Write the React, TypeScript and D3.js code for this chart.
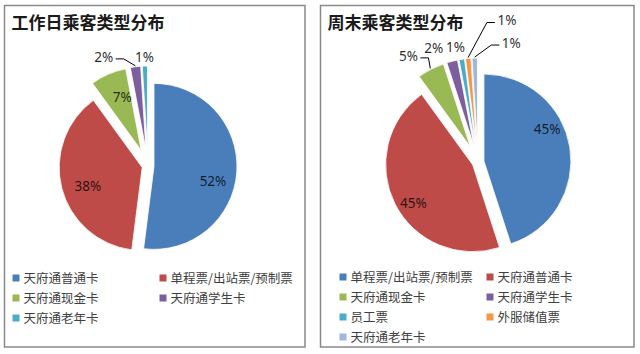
import React from "react";
import * as d3 from "d3";

// weekday chart
const weekdayTitle = "工作日乘客类型分布";
const weekdayCategories = ["天府通普通卡", "单程票/出站票/预制票", "天府通现金卡", "天府通学生卡", "天府通老年卡"];
const weekdayValues = [52, 38, 7, 2, 1];

// weekend chart
const weekendTitle = "周末乘客类型分布";
const weekendCategories = ["单程票/出站票/预制票", "天府通普通卡", "天府通现金卡", "天府通学生卡", "员工票", "外服储值票", "天府通老年卡"];
const weekendValues = [45, 45, 5, 2, 1, 1, 1];

const palette = ["#4A7EBB", "#BE4B48", "#98B954", "#7D5FA0", "#4AACC6", "#F79646", "#A2B6DC"];

// label tweaks (relative to the default spot), Excel moves them around a bit
const weekdayNudge = [[1, 11], [2, 4], [4, 0], [-30, 4], [0, 5]];
const weekdayLeader = [false, false, false, true, false];
const weekendNudge = [[3, -22], [-5, 11], [-16, -1], [-15, 0], [-4, 2], [40, -24], [37, -1]];
const weekendLeader = [false, false, true, false, false, true, true];

const labelFont = "'Noto Sans', 'DejaVu Sans', sans-serif";
const cjkFont = "'Noto Sans CJK SC', 'Noto Sans', sans-serif";

type PieProps = {
  box: [number, number, number, number];
  title: string;
  categories: string[];
  values: number[];
  cx: number;
  cy: number;
  r: number;
  nudge: number[][];
  leader: boolean[];
  legendX: [number, number];
  legendY: number;
};

const PiePanel = ({ box, title, categories, values, cx, cy, r, nudge, leader, legendX, legendY }: PieProps) => {
  const [bx, by, bw, bh] = box;
  const pie = d3.pie<number>().sort(null).startAngle(0).endAngle(2 * Math.PI);
  const arcs = pie(values);
  const arc = d3.arc<d3.PieArcDatum<number>>().innerRadius(0).outerRadius(r);
  const total = d3.sum(values);

  return (
    <g>
      <rect x={bx} y={by} width={bw} height={bh} fill="#fff" stroke="#8a8a8a" strokeWidth={1.5} />
      <text x={bx + 7} y={by + 23} fontFamily={cjkFont} fontWeight={700} fontSize={17} fill="#1a1a1a">
        {title}
      </text>
      <g transform={`translate(${cx},${cy})`}>
        {arcs.map((a, i) => {
          const mid = (a.startAngle + a.endAngle) / 2;
          const pct = (a.value / total) * 100;
          const explode = pct < 20 ? 17 : 6;
          const ox = explode * Math.sin(mid);
          const oy = -explode * Math.cos(mid);
          return (
            <path
              key={i}
              d={arc(a) as string}
              fill={palette[i]}
              stroke="#fff"
              strokeWidth={0.8}
              transform={`translate(${ox},${oy})`}
            />
          );
        })}
        {arcs.map((a, i) => {
          const mid = (a.startAngle + a.endAngle) / 2;
          const pct = (a.value / total) * 100;
          const explode = pct < 20 ? 17 : 6;
          const ux = Math.sin(mid);
          const uy = -Math.cos(mid);
          const inside = pct >= 6;
          const base = inside ? explode + r * 0.7 : r + explode + 14;
          const lx = base * ux + nudge[i][0];
          const ly = base * uy + nudge[i][1];
          const label = `${Math.round(pct)}%`;
          let line = null;
          if (leader[i]) {
            const ex = (r + explode + 1) * ux;
            const ey = (r + explode + 1) * uy;
            const side = ex > lx ? 1 : -1;
            const sx = lx + side * 12;
            const sy = ly + 2;
            line = (
              <polyline
                points={`${sx},${sy} ${sx + side * 8},${sy} ${ex},${ey}`}
                fill="none"
                stroke="#000"
                strokeWidth={1}
              />
            );
          }
          return (
            <g key={i}>
              {line}
              <text
                x={lx}
                y={ly}
                dy="0.36em"
                textAnchor="middle"
                fontFamily={labelFont}
                fontSize={13.5}
                fill="#000"
                fillOpacity={inside ? 0.78 : 0.85}
              >
                {label}
              </text>
            </g>
          );
        })}
      </g>
      <g>
        {categories.map((c, i) => {
          const col = i % 2;
          const row = Math.floor(i / 2);
          const x = legendX[col];
          const y = legendY + row * 20;
          return (
            <g key={c} transform={`translate(${x},${y})`}>
              <rect x={0} y={-3.5} width={7} height={7} fill={palette[i]} />
              <text x={11} y={0} dy="0.36em" fontFamily={cjkFont} fontSize={12.5} fill="#404040">
                {c}
              </text>
            </g>
          );
        })}
      </g>
    </g>
  );
};

export default function App() {
  return (
    <svg
      width={640}
      height={354}
      viewBox="0 0 640 354"
      style={{ position: "absolute", left: 0, top: 0, background: "#fff" }}
    >
      <PiePanel
        box={[4.5, 5.5, 300.5, 341.5]}
        title={weekdayTitle}
        categories={weekdayCategories}
        values={weekdayValues}
        cx={148}
        cy={166}
        r={83}
        nudge={weekdayNudge}
        leader={weekdayLeader}
        legendX={[12.5, 159.5]}
        legendY={278}
      />
      <PiePanel
        box={[320.5, 5.5, 313.5, 341.5]}
        title={weekendTitle}
        categories={weekendCategories}
        values={weekendValues}
        cx={478}
        cy={162}
        r={87}
        nudge={weekendNudge}
        leader={weekendLeader}
        legendX={[339.5, 486.5]}
        legendY={277}
      />
    </svg>
  );
}
